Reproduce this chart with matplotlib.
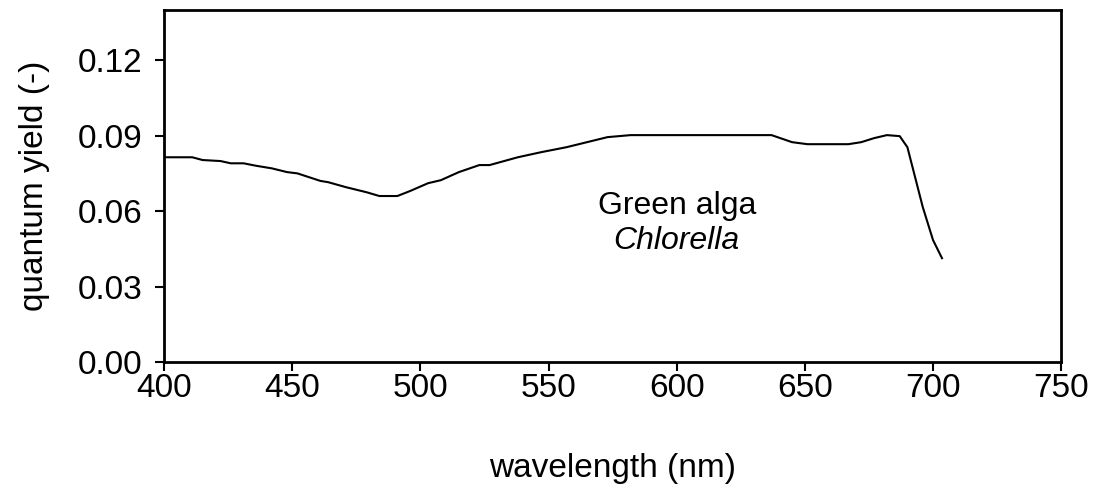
import matplotlib.pyplot as plt

plt.rcParams["font.family"] = ["Liberation Sans", "DejaVu Sans"]

# wavelength (nm) and quantum yield (-)
wavelength = [400, 411, 415, 422, 426, 431, 436, 442, 448, 452, 461, 464,
              471, 479, 484, 491, 496, 503, 508, 515, 523, 527, 538, 547,
              557, 565, 573, 582, 600, 620, 637, 645, 651, 667, 672, 677,
              682, 687, 690, 693, 696, 700, 703.5]
quantum_yield = [0.0814, 0.0814, 0.0803, 0.0799, 0.0790, 0.0790, 0.0780,
                 0.0770, 0.0755, 0.0750, 0.0720, 0.0715, 0.0695, 0.0675,
                 0.0660, 0.0660, 0.0680, 0.0711, 0.0723, 0.0755, 0.0783,
                 0.0783, 0.0814, 0.0834, 0.0854, 0.0874, 0.0894, 0.0902,
                 0.0902, 0.0902, 0.0902, 0.0874, 0.0866, 0.0866, 0.0874,
                 0.0890, 0.0902, 0.0898, 0.0854, 0.0735, 0.0616, 0.0485,
                 0.0413]

x_ticks = [400, 450, 500, 550, 600, 650, 700, 750]
y_ticks = [0.00, 0.03, 0.06, 0.09, 0.12]

fig = plt.figure(figsize=(10.94, 4.9), dpi=100)
ax = fig.add_axes([0.150, 0.261, 0.820, 0.719])

ax.plot(wavelength, quantum_yield, color="black", linewidth=1.5)

ax.set_xlim(400, 750)
ax.set_ylim(0, 0.14)
ax.set_xticks(x_ticks)
ax.set_yticks(y_ticks)
ax.set_yticklabels([f"{v:.2f}" for v in y_ticks])

for spine in ax.spines.values():
    spine.set_linewidth(2)
ax.tick_params(direction="out", length=6.5, width=1.5, labelsize=24)
ax.tick_params(axis="x", pad=1.5)
ax.tick_params(axis="y", pad=9)

ax.set_xlabel("wavelength (nm)", fontsize=24, labelpad=35)
ax.set_ylabel("quantum yield (-)", fontsize=24, labelpad=20)

ax.text(600, 0.062, "Green alga", fontsize=23, ha="center", va="center")
ax.text(600, 0.048, "Chlorella", fontsize=23, ha="center", va="center",
        style="italic")

fig.savefig("out.png", dpi=100)
